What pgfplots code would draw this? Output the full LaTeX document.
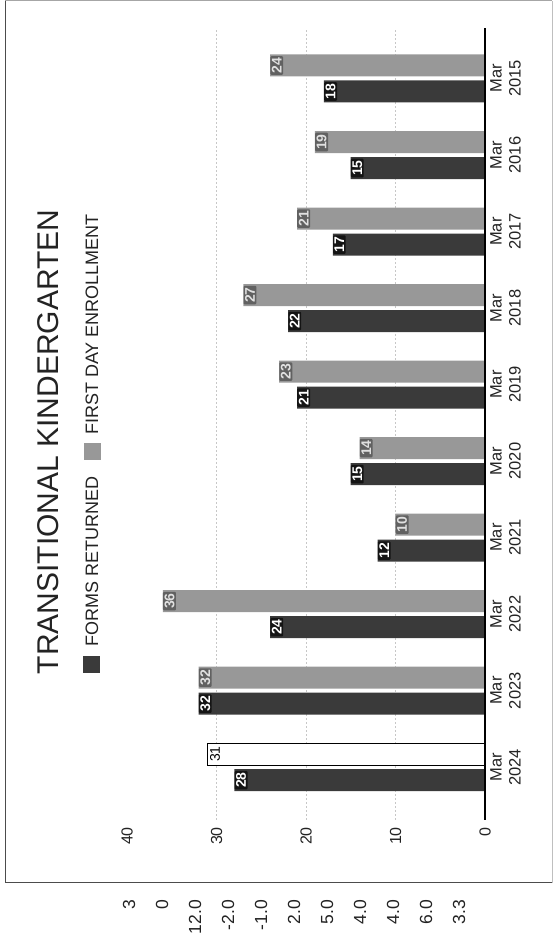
\documentclass[border=0pt]{standalone}
\usepackage{pgfplots}
\pgfplotsset{compat=1.18}
\usepackage{fontspec}
\setmainfont{Liberation Sans}
\definecolor{darkbar}{RGB}{58,58,58}
\definecolor{lightbar}{RGB}{152,152,152}
\definecolor{inkc}{RGB}{35,35,35}
\begin{document}
\begin{tikzpicture}
\path[use as bounding box] (0pt,0pt) rectangle (554pt,950pt);
% scanned frame
\draw[black!70, line width=1pt] (5pt,949pt) -- (5pt,67pt) -- (552pt,67pt);
\draw[black!25, line width=0.8pt] (552pt,67pt) -- (552pt,949pt);
\draw[black!35, line width=1pt] (5pt,949pt) -- (552pt,949pt);
\begin{axis}[
  at={(306pt,526pt)}, anchor=center,
  scale only axis, width=358pt, height=792pt,
  xbar, bar width=22pt,
  x dir=reverse,
  xmin=0, xmax=40, ymin=-0.69, ymax=9.66,
  axis line style={draw=none},
  major tick length=0pt,
  xtick={0,10,20,30,40},
  ytick={0,1,...,9},
  yticklabels={{Mar\\2024},{Mar\\2023},{Mar\\2022},{Mar\\2021},{Mar\\2020},{Mar\\2019},{Mar\\2018},{Mar\\2017},{Mar\\2016},{Mar\\2015}},
  yticklabel pos=right,
  xticklabel shift=7pt,
  yticklabel shift=5pt,
  xticklabel style={rotate=90, anchor=east, inner sep=0pt, font=\fontsize{16}{16}\selectfont, text=inkc},
  yticklabel style={rotate=90, anchor=north, align=center, inner sep=0pt, font=\fontsize{16.5}{19}\selectfont, text=inkc},
  extra x ticks={10,20,30}, extra x tick labels={},
  extra x tick style={grid=major, major grid style={dash pattern=on 2pt off 2pt, black!22, line width=0.8pt}},
  /pgf/number format/assume math mode=true,
  clip=false,
]
\addplot[fill=darkbar, draw=none, bar shift=-13pt,
  nodes near coords,
  nodes near coords style={rotate=90, anchor=north, inner sep=1.5pt, fill=black!92, text=white, rounded corners=1pt, font=\fontsize{14}{14}\selectfont\bfseries}]
  coordinates {(28,0) (32,1) (24,2) (12,3) (15,4) (21,5) (22,6) (17,7) (15,8) (18,9)};
\addplot[fill=lightbar, draw=none, bar shift=13pt,
  nodes near coords,
  nodes near coords style={rotate=90, anchor=north, inner sep=1.5pt, fill=black!62, text=black!12, rounded corners=1pt, font=\fontsize{14}{14}\selectfont\bfseries}]
  coordinates {(32,1) (36,2) (10,3) (14,4) (23,5) (27,6) (21,7) (19,8) (24,9)};
\addplot[fill=white, draw=black, line width=0.9pt, bar shift=13pt,
  nodes near coords,
  nodes near coords style={rotate=90, anchor=north, inner sep=2pt, text=black, font=\fontsize{14}{14}\selectfont}]
  coordinates {(31,0)};
\draw[black, line width=1.2pt] (axis cs:0,-0.69) -- (axis cs:0,9.66);
\end{axis}
% title and legend
\node[rotate=90, inner sep=0pt, text=inkc, font=\fontsize{30}{30}\selectfont] at (48.5pt,508pt) {TRANSITIONAL KINDERGARTEN};
\fill[darkbar] (83pt,277pt) rectangle (100pt,294pt);
\node[rotate=90, anchor=west, inner sep=0pt, text=inkc, font=\fontsize{18}{18}\selectfont] at (92pt,303pt) {FORMS RETURNED};
\fill[lightbar] (84pt,490pt) rectangle (101pt,507pt);
\node[rotate=90, anchor=west, inner sep=0pt, text=inkc, font=\fontsize{18}{18}\selectfont] at (92pt,515pt) {FIRST DAY ENROLLMENT};
% numbers printed below the chart frame
\foreach \xx/\tt in {129/3, 162/0, 195/12.0, 228/-2.0, 261/-1.0, 294/2.0, 327/5.0, 360/4.0, 393/4.0, 426/6.0, 459/3.3}
  \node[rotate=90, anchor=east, inner sep=0pt, text=inkc, font=\fontsize{17.5}{17.5}\selectfont] at (\xx pt,50pt) {\tt};
\end{tikzpicture}
\end{document}
